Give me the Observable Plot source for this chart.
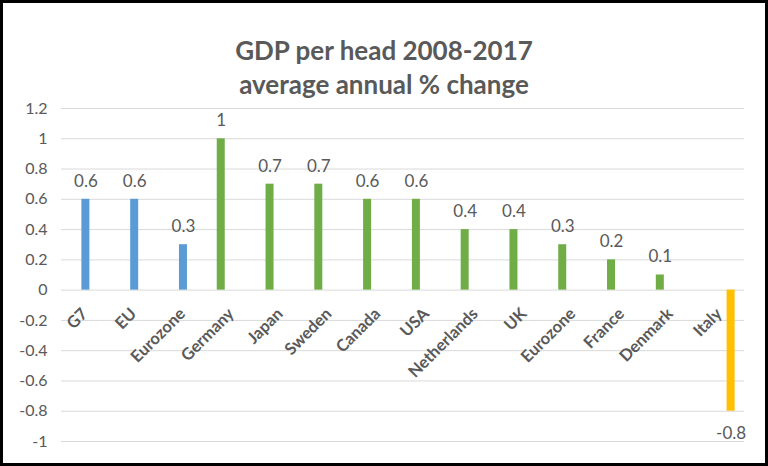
<!DOCTYPE html>
<html>
<head>
<meta charset="utf-8">
<script src="https://cdn.jsdelivr.net/npm/d3@7"></script>
<script src="https://cdn.jsdelivr.net/npm/@observablehq/plot@0.6"></script>
<style>
  html, body { margin: 0; padding: 0; background: #fff; }
  #frame { position: relative; width: 768px; height: 466px; box-sizing: border-box; border: 3px solid #000; background: #fff; overflow: hidden; }
  #title { position: absolute; left: 0; right: 0; top: 30px; text-align: center; font-family: Lato, sans-serif; font-weight: bold; font-size: 26px; line-height: 34px; color: #595959; }
  #chart { position: absolute; left: 0; top: 92px; }
</style>
</head>
<body>
<div id="frame">
  <div id="title">GDP per head 2008-2017<br>average annual % change</div>
  <div id="chart"></div>
</div>
<script>
const categories = ["G7", "EU", "Eurozone", "Germany", "Japan", "Sweden", "Canada", "USA", "Netherlands", "UK", "Eurozone", "France", "Denmark", "Italy"];
const values = [0.6, 0.6, 0.3, 1, 0.7, 0.7, 0.6, 0.6, 0.4, 0.4, 0.3, 0.2, 0.1, -0.8];
const groups = ["blue", "blue", "blue", "green", "green", "green", "green", "green", "green", "green", "green", "green", "green", "yellow"];
const yTicks = [-1, -0.8, -0.6, -0.4, -0.2, 0, 0.2, 0.4, 0.6, 0.8, 1, 1.2];

const colors = { blue: "#5B9BD5", green: "#70AD47", yellow: "#FFC000" };
const offsets = { blue: 0, green: -11, yellow: 11 };

const data = categories.map((c, i) => ({ idx: i, name: c, value: values[i], group: groups[i] }));
const idxDomain = data.map(d => d.idx);

const barMarks = Object.keys(colors).map(g =>
  Plot.barY(data.filter(d => d.group === g), { x: "idx", y: "value", fill: colors[g], dx: offsets[g] })
);

const pos = data.filter(d => d.value >= 0);
const neg = data.filter(d => d.value < 0);
const valueLabel = (arr, dy) => Object.keys(colors).map(g =>
  Plot.text(arr.filter(d => d.group === g), {
    x: "idx", y: "value", text: d => String(d.value), dx: offsets[g], dy,
    fill: "#595959", fontSize: 17, fontFamily: "Lato, sans-serif"
  })
);

const chart = Plot.plot({
  width: 762,
  height: 368,
  marginLeft: 58,
  marginRight: 21,
  marginTop: 13,
  marginBottom: 22,
  style: { fontFamily: "Lato, sans-serif", background: "transparent", overflow: "visible" },
  x: { type: "band", domain: idxDomain, paddingInner: 0.836, paddingOuter: 0.418, round: false, axis: null },
  y: { domain: [-1, 1.2], label: null },
  marks: [
    Plot.ruleY(yTicks, { stroke: "#D9D9D9", strokeWidth: 1 }),
    Plot.axisY({ ticks: yTicks, tickSize: 0, tickPadding: 14, fontSize: 16, color: "#595959", tickFormat: d => String(+d.toFixed(1)), label: null }),
    ...barMarks,
    ...valueLabel(pos, -18),
    ...valueLabel(neg, 22),
    Plot.text(data, {
      x: "idx", y: () => 0, text: "name", rotate: -45, textAnchor: "end",
      dx: -1, dy: 21, fontSize: 16.5, fontWeight: "bold", fill: "#595959", fontFamily: "Lato, sans-serif"
    })
  ]
});
document.getElementById("chart").appendChild(chart);
</script>
</body>
</html>
